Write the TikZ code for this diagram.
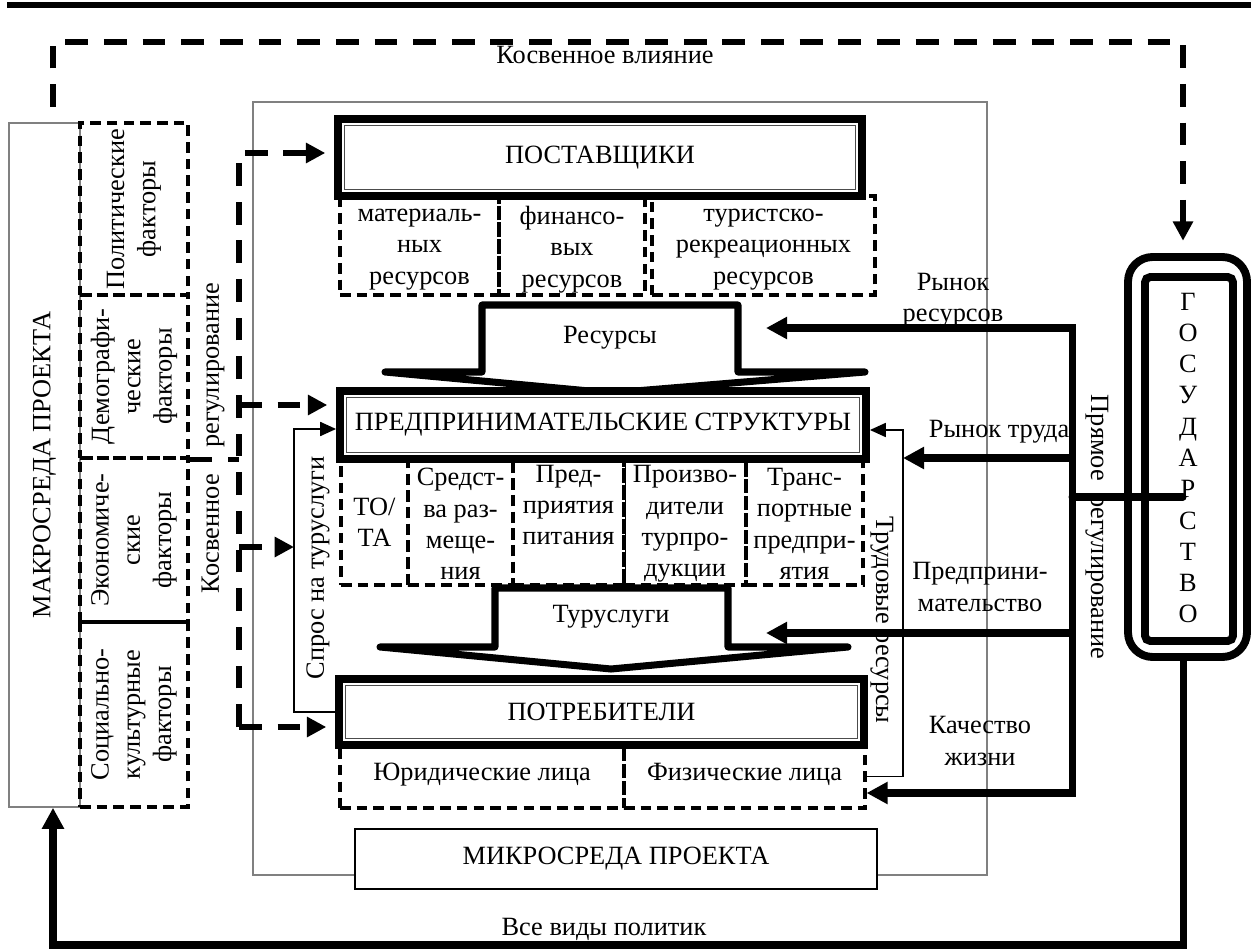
\documentclass[tikz,border=0pt]{standalone}
\usepackage{fontspec}
\setmainfont{Liberation Serif}
\usetikzlibrary{positioning,arrows.meta,fit,calc}

\tikzset{
  every node/.style={font=\fontsize{15}{17.8}\selectfont, inner sep=0pt, align=center},
  frame/.style={draw=gray, line width=0.9pt},
  dashbox/.style={draw, line width=1.8pt, dash pattern=on 6pt off 3.5pt},
  mainbox/.style={draw, line width=4.5pt, fill=white},
  inline/.style={draw=gray!60!black, line width=0.6pt},
  regline/.style={line width=3.3pt, dash pattern=on 13pt off 9pt},
  regarrow/.style={regline, -{Triangle[length=11pt,width=11pt]}, shorten >=5pt},
  bus/.style={line width=4pt},
  busarrow/.style={bus, -{Triangle[length=12pt,width=12pt]}},
  busboth/.style={bus, {Triangle[length=12pt,width=12pt]}-{Triangle[length=12pt,width=12pt]}},
  thinarrow/.style={line width=0.8pt, -{Triangle[length=9pt,width=8pt]}},
  blockarrow/.style={line width=4pt, line join=round, line cap=round, fill=white}
}

\begin{document}
\begin{tikzpicture}[x=0.02cm, y=-0.02cm]
\useasboundingbox (0,0) rectangle (1257,952);

% rule on top
\draw[line width=3.4pt] (7,5) -- (1251,5);

% environments
\node[frame, fit={(253,102) (987,875)}] (micro) {};
\node[frame, fit={(9,123) (80,807)}] (macro) {};
\node[rotate=90] (macrotxt) at (macro.center) {МАКРОСРЕДА ПРОЕКТА};
\node[draw, fill=white, line width=0.8pt, fit={(355,829) (877,889)}] (microlbl) {};
\node (microtxt) at (microlbl.center) {МИКРОСРЕДА ПРОЕКТА};

% factors
\node[dashbox, fit={(80,123) (188,295)}] (pol) {};
\node[dashbox, fit={(80,295) (188,458)}] (dem) {};
\node[dashbox, fit={(80,458) (188,622)}] (eco) {};
\node[dashbox, fit={(80,622) (188,807)}] (soc) {};
\node[rotate=90] (poltxt) at (pol) {Политические\\факторы};
\node[rotate=90] (demtxt) at (dem) {Демографи-\\ческие\\факторы};
\node[rotate=90] (ecotxt) at (eco) {Экономиче-\\ские\\факторы};
\node[rotate=90] (soctxt) at (soc) {Социально-\\культурные\\факторы};

% dashed parts of the three levels
\node[dashbox, fit={(340,196) (499,295)}] (mat) {};
\node[dashbox, fit={(499,196) (645,295)}] (fin) {};
\node[dashbox, fit={(652,196) (875,295)}] (tour) {};
\node[dashbox, fit={(341,459) (408,585)}] (tota) {};
\node[dashbox, fit={(408,459) (513,585)}] (accom) {};
\node[dashbox, fit={(513,459) (624,585)}] (food) {};
\node[dashbox, fit={(624,459) (746,585)}] (prod) {};
\node[dashbox, fit={(746,459) (863,585)}] (trans) {};
\draw[line width=0.8pt] (food.north east) -- (food.south east);
\node[dashbox, fit={(340,745) (624,808)}] (jur) {};
\node[dashbox, fit={(624,745) (865,808)}] (phy) {};

% flows
\draw[blockarrow] (385,372) -- (482,372) -- (482,305) -- (738,305) -- (738,372)
  -- (865,372) -- (611,393) -- cycle;
\node (restxt) at (610,338) {Ресурсы};
\draw[blockarrow] (380,647) -- (495,647) -- (495,588) -- (728,588) -- (728,647)
  -- (848,647) -- (611,669) -- cycle;
\node (servtxt) at (611,617) {Туруслуги};

% main boxes
\node[mainbox, fit={(338,119) (862,196)}] (sup) {};
\draw[inline] ($(sup.south west)+(10,-10)$) rectangle ($(sup.north east)+(-10,10)$);
\node (suptxt) at (sup.center) {ПОСТАВЩИКИ};
\node[mainbox, fit={(340,391) (866,459)}] (ent) {};
\draw[inline] ($(ent.south west)+(10,-10)$) rectangle ($(ent.north east)+(-10,10)$);
\node (enttxt) at (ent.center) {ПРЕДПРИНИМАТЕЛЬСКИЕ СТРУКТУРЫ};
\node[mainbox, fit={(339,679) (864,745)}] (con) {};
\draw[inline] ($(con.south west)+(10,-10)$) rectangle ($(con.north east)+(-10,10)$);
\node (contxt) at (con.center) {ПОТРЕБИТЕЛИ};

% texts of the dashed parts
\node (mattxt) at ($(mat.center)+(0,4)$) {материаль-\\ных\\ресурсов};
\node (fintxt) at ($(fin.center)+(0,4)$) {финансо-\\вых\\ресурсов};
\node (tourtxt) at ($(tour.center)+(0,4)$) {туристско-\\рекреационных\\ресурсов};
\node (totatxt) at (tota.center) {ТО/\\ТА};
\node (accomtxt) at ($(accom.center)+(0,2)$) {Средст-\\ва раз-\\меще-\\ния};
\node[anchor=north] (foodtxt) at ($(food.north)+(0,7)$) {Пред-\\приятия\\питания};
\node (prodtxt) at ($(prod.center)+(0,2)$) {Произво-\\дители\\турпро-\\дукции};
\node (transtxt) at ($(trans.center)+(0,2)$) {Транс-\\портные\\предпри-\\ятия};
\node (jurtxt) at ($(jur.center)+(0,-2)$) {Юридические лица};
\node (phytxt) at ($(phy.center)+(0,-2)$) {Физические лица};

% state
\node[draw, line width=4.5pt, rounded corners=14pt, fit={(1128,257) (1247,657)}] (state) {};
\node[draw, line width=4.5pt, rounded corners=3pt, fit={(1145,277) (1233,641)}] (statein) {};
\node (statetxt) at (1188,458) {Г\\О\\С\\У\\Д\\А\\Р\\С\\Т\\В\\О};

% indirect regulation
\coordinate (rtop) at (239,153);
\coordinate (rbot) at (239,727);
\coordinate (r2) at (239,405);
\coordinate (r3) at (239,547);
\coordinate (sp) at (294,429);
\draw[regarrow] (rbot) -- (rtop) -- (rtop -| sup.west);
\draw[regarrow] (rbot) -- (rbot -| con.west);
\draw[regarrow] (r2) -- (r2 -| ent.west);
\draw[regarrow, shorten >=0pt] (r3) -- (r3 -| sp);
\draw[regline] (dem.south east) -- (rtop |- dem.south east);
\node[rotate=90] (regtxt) at (213,438) {Косвенное\quad регулирование};

% indirect influence
\coordinate (iiL) at (53,107);
\coordinate (iiR) at (1183,42);
\draw[regarrow, shorten >=7pt] (iiL) |- (iiR) -- (iiR |- state.north);
\node (infltxt) at (605,55) {Косвенное влияние};

% demand and labour
\draw[thinarrow] (con.west) -| (sp) -- (sp -| ent.west);
\node[rotate=90] (sprostxt) at (318,568) {Спрос на туруслуги};
\coordinate (tr) at (903,430);
\draw[thinarrow] (phy.east) -| (tr) -- (tr -| ent.east);
\node[rotate=-90] (trudtxt) at (882,620) {Трудовые ресурсы};

% direct regulation
\coordinate (gdot) at (1183,497);
\coordinate (bj) at (1072,497);
\coordinate (bt) at (1072,328);
\coordinate (bb) at (1072,793);
\coordinate (lab) at (1072,458);
\coordinate (resin) at (766,328);
\coordinate (entin) at (766,633);
\draw[bus, line cap=round] (gdot) -- (bj);
\draw[busboth] (resin) -- (bt) -- (bb) -- (bb -| phy.east);
\draw[busarrow] (lab) -- (lab -| tr);
\draw[busarrow] (bj |- entin) -- (entin);
\node (rrtxt) at (953,300) {Рынок\\ресурсов};
\node (rttxt) at (999,432) {Рынок труда};
\node (bustxt) at (980,587) {Предприни-\\мательство};
\node (qltxt) at (980,741) {Качество\\жизни};
\node[rotate=-90] (directtxt) at (1097,527) {Прямое\enspace регулирование};

% all policies
\coordinate (pb) at (1183,945);
\coordinate (pl) at (53,945);
\draw[busarrow] (pb |- state.south) -- (pb) -- (pl) -- (pl |- macro.south);
\node (alltxt) at (604,929) {Все виды политик};
\end{tikzpicture}
\end{document}
